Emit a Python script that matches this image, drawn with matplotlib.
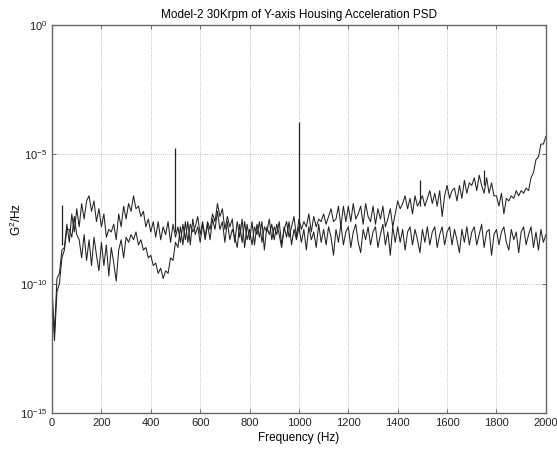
import matplotlib.pyplot as plt
import numpy as np

plt.rcParams["font.family"] = ["Liberation Sans", "DejaVu Sans"]
plt.rcParams["mathtext.fontset"] = "custom"
plt.rcParams["mathtext.rm"] = "Liberation Sans"
plt.rcParams["mathtext.it"] = "Liberation Sans"

# PSD samples every 10 Hz, stored as log10(G^2/Hz)
freq_hz = np.arange(0, 2001, 10)

psd_run1_log = [
    -10.2, -11.9, -9.8, -9.6, -8.7, -8.6, -7.7, -8.4, -7.3, -8.0,
    -7.1, -7.8, -6.9, -7.5, -6.8, -6.6, -7.2, -6.8, -7.6, -7.1,
    -7.8, -7.3, -8.2, -7.9, -8.0, -7.7, -8.3, -7.3, -7.8, -7.0,
    -7.5, -6.9, -7.2, -6.6, -7.1, -7.0, -7.4, -7.2, -7.8, -7.5,
    -8.0, -7.6, -8.2, -7.6, -8.3, -7.8, -8.1, -7.6, -8.4, -7.7,
    -8.2, -7.8, -8.4, -7.7, -8.3, -7.6, -8.5, -7.5, -8.1, -7.8,
    -8.4, -7.7, -8.2, -7.6, -7.9, -7.3, -7.6, -6.9, -7.4, -7.1,
    -7.9, -7.4, -7.8, -7.5, -8.4, -7.6, -8.2, -7.5, -8.6, -7.7,
    -8.3, -7.6, -8.5, -7.7, -8.2, -7.6, -8.7, -7.8, -8.1, -7.7,
    -8.3, -7.7, -8.1, -8.6, -7.8, -8.2, -7.6, -8.5, -7.9, -8.3,
    -7.8, -8.4, -7.9, -8.7, -7.8, -8.3, -8.0, -8.6, -7.7, -8.4,
    -7.9, -8.5, -7.8, -8.2, -8.9, -7.9, -8.4, -7.7, -8.5, -8.0,
    -7.8, -8.6, -8.0, -7.7, -8.4, -8.8, -7.9, -8.3, -7.8, -8.5,
    -8.0, -7.8, -8.6, -8.1, -7.7, -8.5, -8.0, -8.9, -7.8, -8.4,
    -7.8, -8.4, -7.9, -8.7, -8.0, -7.8, -8.5, -7.9, -8.3, -8.8,
    -7.9, -8.4, -7.8, -8.5, -8.0, -7.8, -8.6, -8.1, -7.8, -8.5,
    -8.0, -7.8, -8.5, -7.9, -8.3, -8.8, -7.9, -8.4, -7.8, -8.5,
    -8.0, -7.8, -8.5, -8.1, -7.7, -8.6, -8.0, -7.9, -8.9, -8.1,
    -7.9, -8.5, -8.0, -7.8, -8.4, -8.7, -7.9, -8.3, -8.0, -8.8,
    -8.0, -7.8, -8.5, -8.1, -7.8, -8.6, -8.0, -8.7, -7.9, -8.4,
    -8.1,
]

psd_run2_log = [
    -10.6, -12.2, -10.3, -10.0, -9.0, -8.7, -7.9, -7.9, -8.2, -7.4,
    -8.1, -8.3, -9.0, -8.1, -9.1, -8.3, -9.3, -8.2, -8.9, -9.5,
    -8.4, -9.3, -8.5, -9.7, -8.6, -9.2, -9.9, -8.7, -8.3, -9.0,
    -8.2, -8.4, -8.1, -8.3, -8.0, -8.5, -8.3, -8.7, -8.6, -9.0,
    -8.9, -9.3, -9.2, -9.6, -9.4, -9.8, -9.5, -9.6, -9.0, -9.1,
    -8.4, -8.6, -7.8, -8.5, -7.6, -8.4, -7.7, -8.0, -7.8, -7.4,
    -8.1, -7.6, -8.3, -7.7, -8.3, -7.5, -7.9, -7.2, -7.9, -7.6,
    -8.4, -7.6, -8.3, -7.9, -8.2, -8.6, -7.7, -8.4, -7.6, -8.3,
    -7.9, -8.5, -7.8, -8.1, -7.6, -8.4, -7.8, -8.0, -7.5, -8.3,
    -7.8, -8.1, -7.6, -8.5, -7.9, -7.6, -8.2, -7.8, -7.4, -8.2,
    -7.5, -7.9, -7.6, -7.8, -7.3, -8.0, -7.4, -7.8, -7.5, -7.6,
    -7.3, -7.7, -7.4, -7.1, -7.6, -7.5, -7.0, -7.8, -7.0, -7.6,
    -7.0, -7.6, -6.9, -7.5, -7.3, -7.0, -7.7, -6.9, -7.4, -7.6,
    -7.0, -7.7, -7.1, -7.5, -7.0, -7.8, -7.5, -7.1, -7.8, -7.3,
    -6.8, -7.1, -6.9, -6.6, -7.1, -6.7, -7.3, -6.6, -7.0, -6.8,
    -6.6, -7.0, -6.7, -6.4, -6.9, -6.5, -7.0, -6.4, -7.4, -6.6,
    -6.2, -6.7, -6.4, -6.3, -6.8, -6.2, -6.7, -6.0, -6.5, -6.1,
    -6.2, -5.9, -6.4, -5.8, -6.2, -6.5, -5.9, -6.5, -6.1, -6.6,
    -6.6, -7.0, -6.5, -7.3, -6.7, -6.8, -6.6, -6.7, -6.4, -6.6,
    -6.4, -6.5, -6.3, -6.4, -5.9, -5.7, -5.2, -5.1, -4.6, -4.6,
    -4.3,
]

# narrow tonal lines (log10 of base and peak level)
spike_hz = [40, 500, 1000, 1490, 1750]
spike_base_log = [-8.5, -8.0, -8.0, -7.0, -6.2]
spike_top_log = [-6.95, -4.75, -3.75, -6.0, -5.6]

x_ticks = [0, 200, 400, 600, 800, 1000, 1200, 1400, 1600, 1800, 2000]
y_ticks = [1e-15, 1e-10, 1e-5, 1e0]
y_labels = [r"$10^{-15}$", r"$10^{-10}$", r"$10^{-5}$", r"$10^{0}$"]

fig = plt.figure(figsize=(5.57, 4.49), dpi=100)
ax = fig.add_axes([0.0934, 0.0802, 0.8866, 0.8638])

line_kw = dict(color="#222222", linewidth=0.75)
ax.semilogy(freq_hz, 10.0 ** np.array(psd_run1_log), **line_kw)
ax.semilogy(freq_hz, 10.0 ** np.array(psd_run2_log), **line_kw)
ax.vlines(spike_hz, 10.0 ** np.array(spike_base_log),
          10.0 ** np.array(spike_top_log), color="#222222", linewidth=0.9)

ax.set_xlim(0, 2000)
ax.set_ylim(1e-15, 1e0)
ax.set_xticks(x_ticks)
ax.set_yticks(y_ticks)
ax.set_yticklabels(y_labels)
ax.yaxis.set_minor_locator(plt.NullLocator())
ax.tick_params(direction="in", top=True, right=True, labelsize=8,
               length=3, width=0.6, color="#555555", labelcolor="#222222")
ax.grid(True, linestyle=":", color="#aaaaaa", linewidth=0.6)
for spine in ax.spines.values():
    spine.set_color("#666666")
    spine.set_linewidth(1.0)

ax.set_title("Model-2 30Krpm of Y-axis Housing Acceleration PSD",
             fontsize=8.5, pad=5)
ax.set_xlabel("Frequency (Hz)", fontsize=8.5, labelpad=3)
ax.set_ylabel(r"G$^2$/Hz", fontsize=8.5)
ax.yaxis.set_label_coords(-0.056, 0.5)

fig.savefig("out.png", dpi=100)
